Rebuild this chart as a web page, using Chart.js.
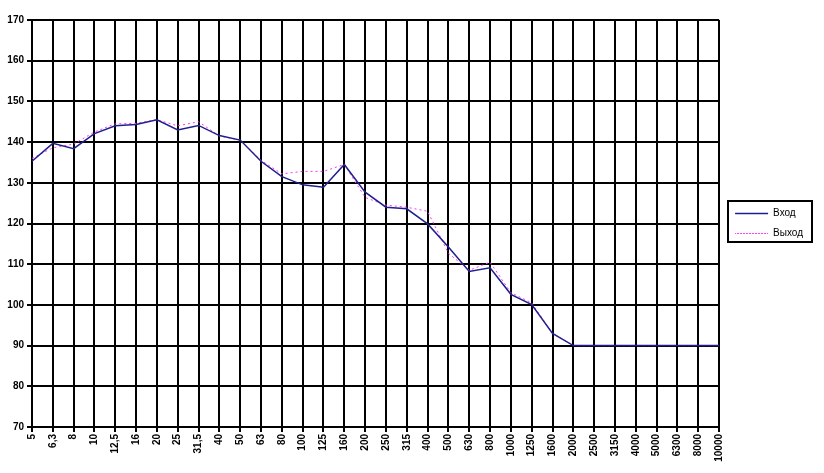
<!DOCTYPE html>
<html>
<head>
<meta charset="utf-8">
<script src="https://cdn.jsdelivr.net/npm/chart.js@4.4.0/dist/chart.umd.min.js"></script>
<style>
html,body{margin:0;padding:0;background:#fff;}
#wrap{width:824px;height:473px;position:relative;}
</style>
</head>
<body>
<div id="wrap"><canvas id="c" width="824" height="473"></canvas></div>
<script>
const categories = ["5","6,3","8","10","12,5","16","20","25","31,5","40","50","63","80","100","125","160","200","250","315","400","500","630","800","1000","1250","1600","2000","2500","3150","4000","5000","6300","8000","10000"];
const vhodValues = [135.3,139.7,138.4,142.1,144.0,144.3,145.5,143.0,144.1,141.6,140.5,135.3,131.5,129.5,128.9,134.5,127.7,124.0,123.6,119.9,114.2,108.2,109.1,102.6,100.1,93.0,90,90,90,90,90,90,90,90];
const vyhodValues = [136.0,138.6,139.5,142.5,144.5,144.6,145.5,144.0,145.0,141.5,140.5,135.5,132.2,132.8,132.8,134.5,126.4,124.5,124.0,123.0,112.7,108.5,110.5,103.0,100.5,93.0,90,90,90,90,90,90,90,90];
const seriesNames = ["Вход","Выход"];
const yTicks = {min:70, max:170, step:10};

const LEGEND_SHIFT = 6;
const LEGEND_PAD = 10;
const legendBorder = {
  id:'legendBorder',
  afterLayout(chart){
    const l = chart.legend;
    if(!l) return;
    l.left += LEGEND_SHIFT; l.right += LEGEND_SHIFT;
  },
  afterDraw(chart){
    const l = chart.legend;
    if(!l || !l.legendHitBoxes || !l.legendHitBoxes.length) return;
    let y0=Infinity,y1=-Infinity;
    l.legendHitBoxes.forEach(h=>{
      y0=Math.min(y0,h.top); y1=Math.max(y1,h.top+h.height);
    });
    const x0 = l.left + LEGEND_PAD;
    const ctx = chart.ctx;
    ctx.save();
    ctx.strokeStyle = '#000';
    ctx.lineWidth = 2;
    ctx.strokeRect(Math.round(x0-7), Math.round(y0-8), 84, Math.round(y1-y0+11));
    ctx.restore();
  }
};

const fontFam = "'Liberation Sans', Arial, sans-serif";

new Chart(document.getElementById('c'), {
  type:'line',
  data:{
    labels:categories,
    datasets:[
      {label:seriesNames[0], data:vhodValues, borderColor:'#1f1f8f', backgroundColor:'#1f1f8f', borderWidth:1.5, pointRadius:0, tension:0, fill:false},
      {label:seriesNames[1], data:vyhodValues, borderColor:'#ff33ff', backgroundColor:'#ff33ff', borderWidth:1, borderDash:[2,3], pointRadius:0, tension:0, fill:false}
    ]
  },
  options:{
    responsive:false,
    animation:false,
    layout:{padding:{top:20,right:17,left:0,bottom:0}},
    plugins:{
      legend:{
        position:'right',
        fullSize:false,
        labels:{
          color:'#000',
          font:{family:fontFam,size:10},
          boxWidth:33,
          boxHeight:0,
          padding:LEGEND_PAD,
          generateLabels(chart){
            return chart.data.datasets.map((ds,i)=>({
              text:ds.label,
              fillStyle:'rgba(0,0,0,0)',
              strokeStyle:ds.borderColor,
              lineWidth:i===0?1.5:1,
              lineDash:i===0?[]:[1,2],
              hidden:false,
              datasetIndex:i,
              fontColor:'#000'
            }));
          }
        }
      },
      tooltip:{enabled:false}
    },
    scales:{
      x:{
        offset:false,
        grid:{color:'#000',lineWidth:2,tickLength:5,drawOnChartArea:true},
        border:{color:'#000',width:2},
        ticks:{color:'#000',font:{family:fontFam,size:10,weight:'bold'},maxRotation:90,minRotation:90,autoSkip:false,padding:2},
        afterFit(s){ s.height = 46; }
      },
      y:{
        min:yTicks.min,max:yTicks.max,
        grid:{color:'#000',lineWidth:2,tickLength:5},
        border:{color:'#000',width:2},
        ticks:{stepSize:yTicks.step,color:'#000',font:{family:fontFam,size:10,weight:'bold'},padding:3},
        afterFit(s){ s.width = 32; }
      }
    }
  },
  plugins:[legendBorder]
});
</script>
</body>
</html>
